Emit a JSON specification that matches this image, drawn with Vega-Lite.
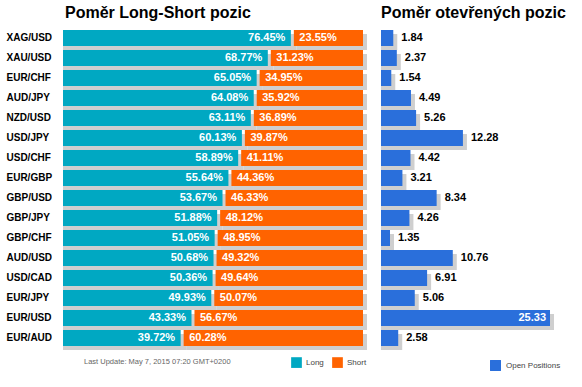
{
  "$schema": "https://vega.github.io/schema/vega-lite/v6.json",
  "padding": {"left": 6, "top": 5, "right": 5, "bottom": 5},
  "background": "white",
  "config": {"view": {"stroke": null}, "font": "Liberation Sans", "concat": {"spacing": 14}},
  "data": {"values": [
    {"pair": "XAG/USD", "long": 76.45, "short": 23.55, "open": 1.84},
    {"pair": "XAU/USD", "long": 68.77, "short": 31.23, "open": 2.37},
    {"pair": "EUR/CHF", "long": 65.05, "short": 34.95, "open": 1.54},
    {"pair": "AUD/JPY", "long": 64.08, "short": 35.92, "open": 4.49},
    {"pair": "NZD/USD", "long": 63.11, "short": 36.89, "open": 5.26},
    {"pair": "USD/JPY", "long": 60.13, "short": 39.87, "open": 12.28},
    {"pair": "USD/CHF", "long": 58.89, "short": 41.11, "open": 4.42},
    {"pair": "EUR/GBP", "long": 55.64, "short": 44.36, "open": 3.21},
    {"pair": "GBP/USD", "long": 53.67, "short": 46.33, "open": 8.34},
    {"pair": "GBP/JPY", "long": 51.88, "short": 48.12, "open": 4.26},
    {"pair": "GBP/CHF", "long": 51.05, "short": 48.95, "open": 1.35},
    {"pair": "AUD/USD", "long": 50.68, "short": 49.32, "open": 10.76},
    {"pair": "USD/CAD", "long": 50.36, "short": 49.64, "open": 6.91},
    {"pair": "EUR/JPY", "long": 49.93, "short": 50.07, "open": 5.06},
    {"pair": "EUR/USD", "long": 43.33, "short": 56.67, "open": 25.33},
    {"pair": "EUR/AUD", "long": 39.72, "short": 60.28, "open": 2.58}
  ]},
  "resolve": {"scale": {"color": "independent", "x": "independent"}, "legend": {"color": "independent"}},
  "hconcat": [
    {
      "width": 300,
      "height": 320,
      "title": {"text": "Poměr Long-Short pozic", "anchor": "start", "frame": "group", "fontSize": 16, "fontWeight": "bold", "color": "black", "baseline": "alphabetic", "offset": -6, "dx": 2},
      "transform": [
        {"calculate": "format(datum.long, '.2f') + '%'", "as": "longLabel"},
        {"calculate": "format(datum.short, '.2f') + '%'", "as": "shortLabel"}
      ],
      "encoding": {
        "y": {"field": "pair", "type": "nominal", "sort": null,
          "scale": {"paddingInner": 0.2, "paddingOuter": 0.1},
          "axis": {"title": null, "domain": false, "ticks": false, "labelAlign": "left", "labelPadding": 57, "labelFontSize": 10, "labelFontWeight": "bold", "labelColor": "black"}}
      },
      "layer": [
        {
          "mark": {"type": "bar", "color": "#cfcfcf", "xOffset": 4, "x2Offset": 4, "yOffset": 4},
          "encoding": {
            "x": {"field": "long", "type": "quantitative", "stack": null, "scale": {"domain": [0, 100], "nice": false}, "axis": null}
          }
        },
        {
          "mark": {"type": "bar", "color": "#cfcfcf", "xOffset": 4, "x2Offset": 4, "yOffset": 4},
          "encoding": {
            "x": {"field": "long", "type": "quantitative", "stack": null},
            "x2": {"datum": 100}
          }
        },
        {
          "mark": {"type": "bar", "xOffset": -1.5},
          "encoding": {
            "x": {"field": "long", "type": "quantitative", "stack": null},
            "color": {"datum": "Long", "type": "nominal",
              "scale": {"domain": ["Long", "Short"], "range": ["#00A8C2", "#FF6300"]},
              "legend": {"orient": "none", "legendX": 21, "legendY": 329, "direction": "horizontal",
                "title": "Last Update: May 7, 2015 07:20 GMT+0200", "titleOrient": "left", "titlePadding": 60,
                "titleFontSize": 7.5, "titleFontWeight": "normal", "titleColor": "#666666", "titleLimit": 400, "titleBaseline": "middle",
                "symbolType": "square", "symbolSize": 115, "symbolStrokeWidth": 0, "symbolOpacity": 1,
                "labelFontSize": 8, "labelColor": "#444444", "labelOffset": 4, "columnPadding": 8, "padding": 0}}
          }
        },
        {
          "mark": {"type": "bar", "xOffset": 1.5},
          "encoding": {
            "x": {"field": "long", "type": "quantitative", "stack": null},
            "x2": {"datum": 100},
            "color": {"datum": "Short", "type": "nominal"}
          }
        },
        {
          "mark": {"type": "text", "align": "right", "dx": -7, "fontSize": 11, "fontWeight": "bold", "color": "white"},
          "encoding": {
            "x": {"field": "long", "type": "quantitative"},
            "text": {"field": "longLabel"}
          }
        },
        {
          "mark": {"type": "text", "align": "left", "dx": 7, "fontSize": 11, "fontWeight": "bold", "color": "white"},
          "encoding": {
            "x": {"field": "long", "type": "quantitative"},
            "text": {"field": "shortLabel"}
          }
        }
      ]
    },
    {
      "width": 169,
      "height": 320,
      "title": {"text": "Poměr otevřených pozic", "anchor": "start", "frame": "group", "fontSize": 16, "fontWeight": "bold", "color": "black", "baseline": "alphabetic", "offset": -6},
      "encoding": {
        "y": {"field": "pair", "type": "nominal", "sort": null,
          "scale": {"paddingInner": 0.2, "paddingOuter": 0.1}, "axis": null}
      },
      "layer": [
        {
          "mark": {"type": "bar", "color": "#cfcfcf", "xOffset": 4, "x2Offset": 4, "yOffset": 4},
          "encoding": {
            "x": {"field": "open", "type": "quantitative", "stack": null, "scale": {"domain": [0, 25.33], "nice": false}, "axis": null}
          }
        },
        {
          "mark": {"type": "bar"},
          "encoding": {
            "x": {"field": "open", "type": "quantitative", "stack": null},
            "color": {"datum": "Open Positions", "type": "nominal",
              "scale": {"range": ["#2A6FDB"]},
              "legend": {"orient": "none", "legendX": 109, "legendY": 332, "title": null,
                "symbolType": "square", "symbolSize": 120, "symbolStrokeWidth": 0, "symbolOpacity": 1,
                "labelFontSize": 8, "labelColor": "#444444", "labelOffset": 5, "padding": 0}}
          }
        },
        {
          "transform": [{"filter": "datum.open < 20"}],
          "mark": {"type": "text", "align": "left", "dx": 8, "fontSize": 11, "fontWeight": "bold", "color": "black"},
          "encoding": {
            "x": {"field": "open", "type": "quantitative"},
            "text": {"field": "open", "format": ".2f"}
          }
        },
        {
          "transform": [{"filter": "datum.open >= 20"}],
          "mark": {"type": "text", "align": "right", "dx": -4, "fontSize": 11, "fontWeight": "bold", "color": "white"},
          "encoding": {
            "x": {"field": "open", "type": "quantitative"},
            "text": {"field": "open", "format": ".2f"}
          }
        }
      ]
    }
  ]
}
